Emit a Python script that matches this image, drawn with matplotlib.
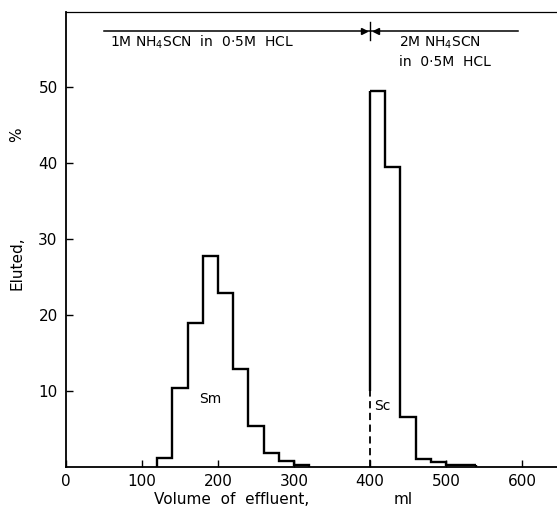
import matplotlib
matplotlib.use("Agg")
import matplotlib.pyplot as plt
import numpy as np

# ---- data ----
sm_edges = [120, 140, 160, 180, 200, 220, 240, 260, 280, 300, 320]
sm_values = [1.2, 10.4, 18.9, 27.8, 22.9, 12.9, 5.4, 1.9, 0.8, 0.3]
sc_edges = [400, 420, 440, 460, 480, 500, 520, 540]
sc_values = [49.5, 39.5, 6.6, 1.1, 0.6, 0.3, 0.3]
sc_dashed_top = 10.0
x_ticks = [0, 100, 200, 300, 400, 500, 600]
y_ticks = [10, 20, 30, 40, 50]

plt.rcParams['font.family'] = ['DejaVu Sans']
fig = plt.figure(figsize=(5.57, 5.15), dpi=100)
ax = fig.add_axes([66/557, 48/515, 491/557, 455/515])
ax.set_xlim(0, 646)
ax.set_ylim(0, 59.9)

lw = 1.7
ax.stairs(sm_values, sm_edges, baseline=0, color='black', lw=lw)
ax.stairs(sc_values, sc_edges, baseline=None, color='black', lw=lw)
ax.vlines(sc_edges[0], sc_dashed_top, sc_values[0], color='black', lw=lw)
ax.vlines(sc_edges[0], 0, sc_dashed_top, color='black', lw=1.3, linestyles=(0, (4, 2.5)))
ax.vlines(sc_edges[-1], 0, sc_values[-1], color='black', lw=lw)

# spines
for s in ['left', 'bottom']:
    ax.spines[s].set_linewidth(1.3)
ax.spines['top'].set_linewidth(0.9)
ax.spines['right'].set_visible(False)

ax.set_xticks(x_ticks)
ax.set_xticklabels([str(v) for v in x_ticks], fontsize=11)
ax.set_yticks(y_ticks)
ax.set_yticklabels([str(v) for v in y_ticks], fontsize=11)
ax.tick_params(direction='in', length=5, width=1.0, pad=6)
ax.tick_params(axis='x', pad=5)

# labels
fig.text(17/557, 1 - 263/515, 'Eluted,', rotation=90, ha='center', va='center', fontsize=11)
fig.text(17/557, 1 - 135/515, '%', rotation=90, ha='center', va='center', fontsize=11)
fig.text(232/557, 1 - 500/515, 'Volume  of  effluent,', ha='center', va='center', fontsize=11)
fig.text(403/557, 1 - 500/515, 'ml', ha='center', va='center', fontsize=11)

# peak labels
ax.text(190, 9.0, 'Sm', ha='center', va='center', fontsize=10)
ax.text(405, 8.0, 'Sc', ha='left', va='center', fontsize=10)

# top annotation
y_line = 57.4
ax.plot([50, 595], [y_line, y_line], color='black', lw=1.1)
ax.plot([400, 400], [56.2, 58.6], color='black', lw=1.0)
ax.plot([392], [y_line], marker='>', color='black', ms=4)
ax.plot([408], [y_line], marker='<', color='black', ms=4)
ax.text(58, 55.9, '1M NH$_4$SCN  in  0·5M  HCL', ha='left', va='center', fontsize=10)
ax.text(438, 55.8, '2M NH$_4$SCN', ha='left', va='center', fontsize=10)
ax.text(438, 53.3, 'in  0·5M  HCL', ha='left', va='center', fontsize=10)

fig.savefig('out.png', dpi=100)
